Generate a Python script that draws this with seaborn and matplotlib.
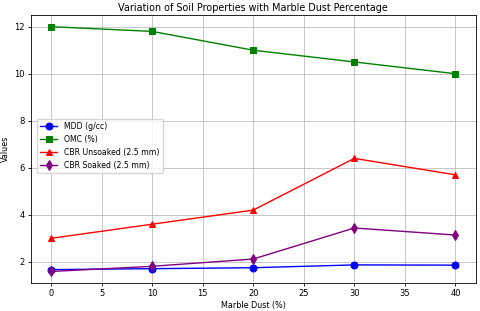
import pandas as pd
import seaborn as sns
from matplotlib import pyplot as plt

marble_dust = [0, 10, 20, 30, 40]
mdd = [1.67, 1.71, 1.75, 1.87, 1.86]
omc = [12.0, 11.8, 11.0, 10.5, 10.0]
cbr_unsoaked = [3.0, 3.6, 4.2, 6.4, 5.7]
cbr_soaked = [1.59, 1.81, 2.12, 3.44, 3.14]

series = [
    ('MDD (g/cc)', mdd, 'blue', 'o'),
    ('OMC (%)', omc, 'green', 's'),
    ('CBR Unsoaked (2.5 mm)', cbr_unsoaked, 'red', '^'),
    ('CBR Soaked (2.5 mm)', cbr_soaked, 'purple', 'd'),
]

plt.rcParams['font.family'] = ['DejaVu Sans']
fig = plt.figure(figsize=(4.8, 3.11), dpi=100)
ax = fig.add_axes([0.064, 0.09, 0.927, 0.862])

for name, vals, color, marker in series:
    df = pd.DataFrame({'x': marble_dust, 'y': vals})
    sns.lineplot(data=df, x='x', y='y', ax=ax, color=color, marker=marker,
                 markersize=5, markeredgecolor=color, linewidth=1.0, label=name)

ax.set_xlim(-2, 42)
ax.set_ylim(1.1, 12.5)
ax.set_xticks(range(0, 41, 5))
ax.set_yticks([2, 4, 6, 8, 10, 12])
ax.tick_params(labelsize=6, length=2.5, width=0.6, pad=2)
for s in ax.spines.values():
    s.set_linewidth(0.6)
ax.grid(True, color='#b0b0b0', linewidth=0.5)
ax.set_xlabel('Marble Dust (%)', fontsize=5.8, labelpad=2)
ax.set_ylabel('Values', fontsize=5.8, labelpad=3)
ax.set_title('Variation of Soil Properties with Marble Dust Percentage', fontsize=6.9, pad=3)
ax.legend(loc='upper left', bbox_to_anchor=(0.005, 0.628), fontsize=5.6, framealpha=0.8,
          handlelength=2.2, borderpad=0.45, labelspacing=0.5)
fig.savefig('out.png', dpi=100)
